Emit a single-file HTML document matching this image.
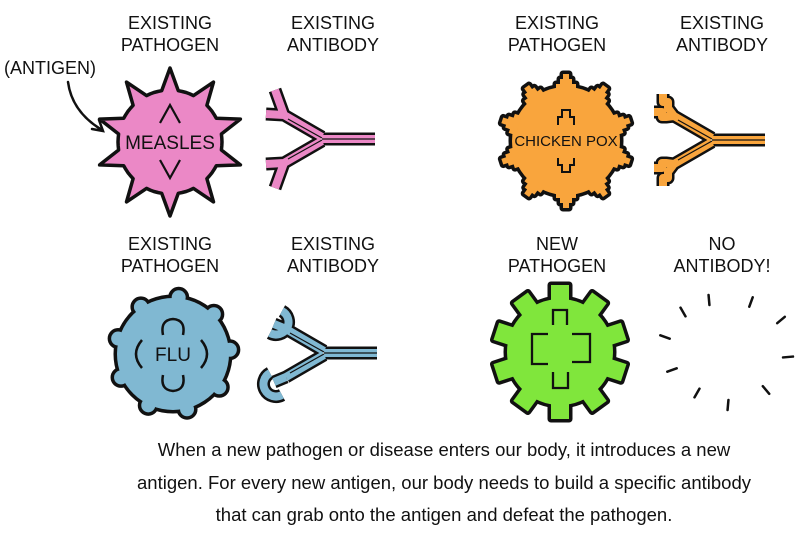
<!DOCTYPE html>
<html><head><meta charset="utf-8"><style>
html,body{margin:0;padding:0;background:#fff;width:808px;height:540px;overflow:hidden}
svg text{font-family:"Liberation Sans Narrow","Liberation Sans",sans-serif;fill:#111}
</style></head><body>
<svg id="s" width="808" height="540" viewBox="0 0 808 540" xmlns="http://www.w3.org/2000/svg">
<g font-size="18" text-anchor="middle">
<text x="170" y="29">EXISTING</text><text x="170" y="51">PATHOGEN</text>
<text x="333" y="29">EXISTING</text><text x="333" y="51">ANTIBODY</text>
<text x="557" y="29">EXISTING</text><text x="557" y="51">PATHOGEN</text>
<text x="722" y="29">EXISTING</text><text x="722" y="51">ANTIBODY</text>
<text x="170" y="250">EXISTING</text><text x="170" y="272">PATHOGEN</text>
<text x="333" y="250">EXISTING</text><text x="333" y="272">ANTIBODY</text>
<text x="557" y="250">NEW</text><text x="557" y="272">PATHOGEN</text>
<text x="722" y="250">NO</text><text x="722" y="272">ANTIBODY!</text>
<text x="50" y="74">(ANTIGEN)</text>
</g>
<path d="M68 82 Q72 112 102 130 M92 129 L103 131 L99 120" fill="none" stroke="#111" stroke-width="2.5" stroke-linecap="round"/>
<g id="shapes"></g>
<g font-size="18.5" text-anchor="middle">
<text x="444" y="456">When a new pathogen or disease enters our body, it introduces a new</text>
<text x="444" y="489">antigen. For every new antigen, our body needs to build a specific antibody</text>
<text x="444" y="521">that can grab onto the antigen and defeat the pathogen.</text>
</g>
</svg>
<script>
var g=document.getElementById('shapes'),h='';
function P(a){return a.map(function(p){return p[0].toFixed(1)+','+p[1].toFixed(1)}).join(' ');}
// measles: circle with small spikes
var pts=[],cx=170,cy=142,R=52,N=10;
for(var i=0;i<N;i++){var c=Math.PI*2*i/N-Math.PI/2,hw=0.16;
 for(var k=0;k<=4;k++){var a=c+hw+(Math.PI*2/N-2*hw)*k/4;pts.push([cx+R*Math.cos(a),cy+R*Math.sin(a)]);}
}
var sp=[];
for(var i=0;i<N;i++){var c=Math.PI*2*i/N-Math.PI/2;sp.push([cx+74*Math.cos(c),cy+74*Math.sin(c)]);}
var all=[];for(var i=0;i<N;i++){all.push(sp[i]);for(var k=0;k<5;k++)all.push(pts[i*5+k]);}
h+='<polygon points="'+P(all)+'" fill="#eb88c6" stroke="#111" stroke-width="3.5" stroke-linejoin="round"/>';
h+='<path d="M160 123 L170 105 L180 123 M160 160 L170 178 L180 160" fill="none" stroke="#111" stroke-width="2.2"/>';
h+='<text x="170" y="149" font-size="19" text-anchor="middle">MEASLES</text>';
function gear(cx,cy,R,n,tw,th,step,off){var s='';
 s+='<circle cx="'+cx+'" cy="'+cy+'" r="'+R+'"/>';
 for(var i=0;i<n;i++){var a=360*i/n+off;
  if(step){s+='<path transform="translate('+cx+','+cy+') rotate('+a+')" d="M-10 '+(-R+4)+' L-10 '+(-R-3)+' L-6 '+(-R-3)+' L-6 '+(-R-8)+' L-3 '+(-R-8)+' L-3 '+(-R-13)+' L3 '+(-R-13)+' L3 '+(-R-8)+' L6 '+(-R-8)+' L6 '+(-R-3)+' L10 '+(-R-3)+' L10 '+(-R+4)+'Z"/>';}
  else s+='<rect transform="translate('+cx+','+cy+') rotate('+a+')" x="'+(-tw/2)+'" y="'+(-R-th)+'" width="'+tw+'" height="'+(th+6)+'"/>';
 }return s;}
function layered(inner,fill){return '<g fill="#111" stroke="#111" stroke-width="7" stroke-linejoin="round">'+inner+'</g><g fill="'+fill+'">'+inner+'</g>';}
h+=layered(gear(566,141,54,10,0,0,true,0),'#f9a53d');
h+='<path d="M558 125 L558 117 L562 117 L562 110 L570 110 L570 117 L574 117 L574 125 M558 158 L558 165 L562 165 L562 172 L570 172 L570 165 L574 165 L574 158" fill="none" stroke="#111" stroke-width="2"/>';
h+='<text x="566" y="146" font-size="15" text-anchor="middle">CHICKEN POX</text>';
h+=layered(gear(560,352,53,10,18,14,false,0),'#80e63c');
h+='<path d="M553 325 L553 310 L567 310 L567 325 M548 334 L532 334 L532 364 L548 364 M572 334 L590 334 L590 362 L572 362 M553 372 L553 388 L568 388 L568 372" fill="none" stroke="#111" stroke-width="2.3"/>';
var fl='<circle cx="173" cy="354" r="56"/>';
for(var i=0;i<9;i++){var a=Math.PI*2*i/9-Math.PI/2+0.1;fl+='<circle cx="'+(173+57*Math.cos(a))+'" cy="'+(354+57*Math.sin(a))+'" r="7"/>';}
h+=layered(fl,'#80b8d2');
h+='<path d="M163 335 Q160 320 173 319 Q186 320 183 335 M163 375 Q160 390 173 391 Q186 390 183 375 M142 340 Q130 354 142 368 M201 340 Q213 354 201 368" fill="none" stroke="#111" stroke-width="2.5"/>';
h+='<text x="173" y="361" font-size="19" text-anchor="middle">FLU</text>';
function ab(x0,y0,col,kind){
 var s='<g fill="none" stroke-linecap="butt" stroke-linejoin="round">';
 var paths=[];
 paths.push('M'+(x0+47)+' '+y0+' L'+(x0-6)+' '+y0);
 [-1,1].forEach(function(d){
  paths.push('M'+(x0-6)+' '+(y0+d*2)+' L'+(x0-44)+' '+(y0+d*24));
  var fx=x0-44,fy=y0+d*24;
  if(kind==0){paths.push('M'+fx+' '+fy+' L'+(fx-9)+' '+(fy+d*25)+' M'+fx+' '+fy+' L'+(fx-18)+' '+(fy+d*1));}
  else if(kind==1){paths.push('M'+fx+' '+fy+' L'+(fx-6)+' '+(fy+d*8)+' L'+(fx-6)+' '+(fy+d*14)+' L'+(fx-11)+' '+(fy+d*14)+' L'+(fx-11)+' '+(fy+d*22)+' M'+fx+' '+fy+' L'+(fx-8)+' '+(fy-d*1)+' L'+(fx-12)+' '+(fy-d*1)+' L'+(fx-12)+' '+(fy+d*4)+' L'+(fx-20)+' '+(fy+d*4));}
  else {paths.push('M'+fx+' '+fy+' L'+(fx-12)+' '+(fy+d*5)+' M'+(fx-4)+' '+(fy+d*18)+' A11 11 0 1 1 '+(fx-16)+' '+(fy-d*4));}
 });
 var d=paths.join(' ');
 s+='<path d="'+d+'" stroke="#111" stroke-width="13"/><path d="'+d+'" stroke="'+col+'" stroke-width="8"/><path d="M'+(x0+47)+' '+y0+' L'+(x0-6)+' '+y0+' M'+(x0-6)+' '+(y0-1)+' L'+(x0-40)+' '+(y0-20)+' M'+(x0-6)+' '+(y0+1)+' L'+(x0-40)+' '+(y0+20)+'" stroke="#111" stroke-width="1.2"/></g>';
 return s;}
h+=ab(328,139,'#eb88c6',0);
h+=ab(718,140,'#f9a53d',1);
h+=ab(330,353,'#80b8d2',2);
var ds=[[683,312,60],[709,300,85],[751,302,110],[781,320,140],[665,337,20],[788,357,175],[672,370,-20],[697,393,-60],[728,405,-85],[766,390,-130]];
ds.forEach(function(p){var a=p[2]*Math.PI/180;h+='<line x1="'+(p[0]-5*Math.cos(a))+'" y1="'+(p[1]-5*Math.sin(a))+'" x2="'+(p[0]+5*Math.cos(a))+'" y2="'+(p[1]+5*Math.sin(a))+'" stroke="#111" stroke-width="2.5" stroke-linecap="round"/>';});
g.innerHTML=h;
</script>
</body></html>
